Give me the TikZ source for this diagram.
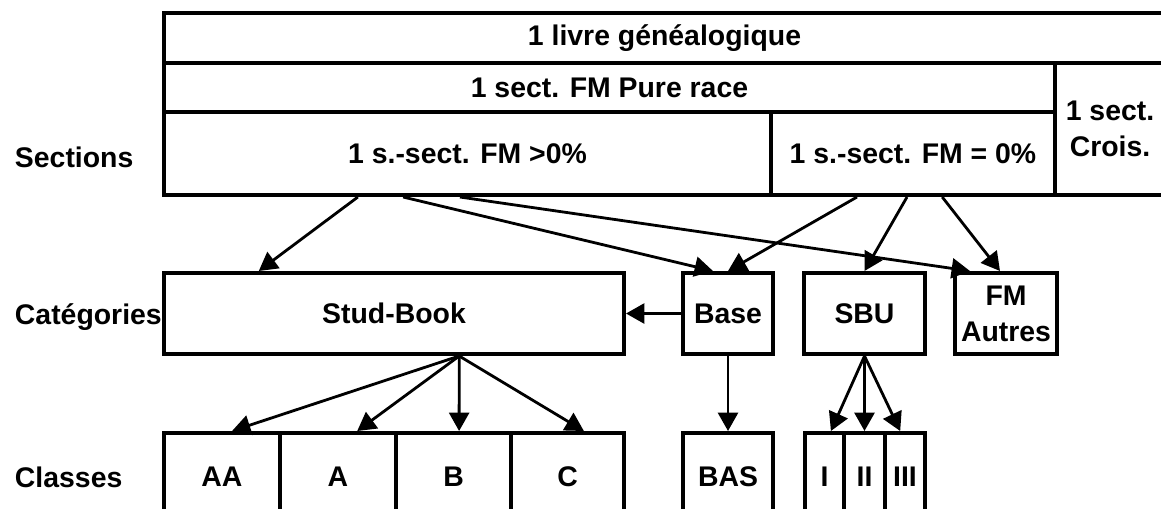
\documentclass[tikz,border=0pt]{standalone}
\usepackage{fontspec}
\setmainfont{Liberation Sans}
\usepackage{tikz}
\usetikzlibrary{arrows.meta,calc,positioning}

\begin{document}
\begin{tikzpicture}[x=0.025cm,y=-0.025cm,
	cell/.style 2 args={draw,line width=0.1cm,inner sep=0pt,minimum width=#1*0.025cm,minimum height=#2*0.025cm,align=center},
	arr/.style={line width=0.07cm,-{Triangle[length=0.46cm,width=0.5cm]}},
	font=\fontsize{20.2}{25.6}\selectfont\bfseries]
	\useasboundingbox (0,0) rectangle (1161,508);
	\clip (0,0) rectangle (1161,508);
	
	% sections
	\node[cell={1001}{50}] (livre) at (664.5,38) {1 livre généalogique};
	\node[cell={891}{49}] (pure) at (609.5,87.5) {1 sect. FM Pure race};
	\node[cell={110}{132}] (crois) at (1110,129) {1 sect.\\Crois.};
	\node[cell={607}{83}] (s1) at (467.5,153.5) {1 s.-sect. FM >0\%};
	\node[cell={284}{83}] (s2) at (913,153.5) {1 s.-sect. FM = 0\%};
	
	% categories
	\node[cell={460}{81}] (stud) at (394,313.5) {Stud-Book};
	\node[cell={90}{81}] (base) at (728,313.5) {Base};
	\node[cell={121}{81}] (sbu) at (864.5,313.5) {SBU};
	\node[cell={102}{81}] (fm) at (1006,313.5) {FM\\Autres};
	
	% classes
	\node[cell={116}{87}] (aa) at (222,476.5) {AA};
	\node[cell={116}{87}] (a) at (338,476.5) {A};
	\node[cell={115}{87}] (b) at (453.5,476.5) {B};
	\node[cell={113}{87}] (c) at (567.5,476.5) {C};
	\node[cell={90}{87}] (bas) at (728,476.5) {BAS};
	\node[cell={39}{87}] (i) at (824.5,476.5) {I};
	\node[cell={41}{87}] (ii) at (864.5,476.5) {II};
	\node[cell={40}{87}] (iii) at (905,476.5) {III};
	
	% row labels
	\node[anchor=west] (lsec) at (10,157) {Sections};
	\node[anchor=west] (lcat) at (10,317) {Catégories};
	\node[anchor=west] (lcla) at (10,477) {Classes};
	
	\draw[arr] ([xshift=-2.74cm]s1.south) -- ([xshift=-3.38cm]stud.north);
	\draw[arr] ([xshift=-1.61cm]s1.south) -- ([xshift=-0.375cm]base.north);
	\draw[arr] ([xshift=-0.19cm]s1.south) -- ([xshift=-0.9cm]fm.north);
	\draw[arr] ([xshift=-1.4cm]s2.south) -- (base.north);
	\draw[arr] ([xshift=-0.15cm]s2.south) -- (sbu.north);
	\draw[arr] ([xshift=0.73cm]s2.south) -- ([xshift=-0.15cm]fm.north);
	
	\draw[arr] (base.west) -- (stud.east);
	\draw[arr] ([xshift=1.63cm]stud.south) -- ([xshift=0.25cm]aa.north);
	\draw[arr] ([xshift=1.63cm]stud.south) -- ([xshift=0.48cm]a.north);
	\draw[arr] ([xshift=1.63cm]stud.south) -- ([xshift=0.14cm]b.north);
	\draw[arr] ([xshift=1.63cm]stud.south) -- ([xshift=0.41cm]c.north);
	\draw[arr] (base.south) -- (bas.north);
	\draw[arr] (sbu.south) -- ([xshift=0.16cm]i.north);
	\draw[arr] (sbu.south) -- (ii.north);
	\draw[arr] (sbu.south) -- ([xshift=-0.12cm]iii.north);
\end{tikzpicture}
\end{document}
